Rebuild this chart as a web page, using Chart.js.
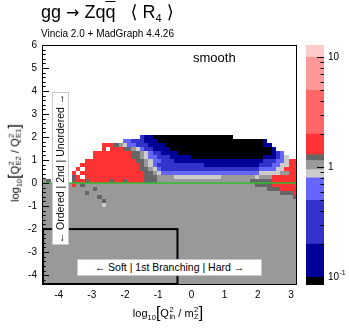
<!DOCTYPE html>
<html><head><meta charset="utf-8">
<script src="https://cdn.jsdelivr.net/npm/chart.js@4"></script>
<style>
body{margin:0;background:#fff;}
#wrap{position:relative;width:349px;height:328px;overflow:hidden;font-family:'Liberation Sans',Arial,Helvetica,'DejaVu Sans',sans-serif;color:#000;}
canvas{position:absolute;top:0;}
.t{position:absolute;white-space:pre;line-height:1;}
.box{position:absolute;background:#fff;border:1px solid #c8c8c8;box-sizing:border-box;font-size:10.5px;display:flex;align-items:center;justify-content:center;white-space:pre;line-height:1;}
.ss{display:inline-block;vertical-align:middle;line-height:0.9;font-size:7.5px;text-align:left;margin-left:0.5px;}
.br{font-size:16px;vertical-align:-1px;}
</style></head>
<body>
<div id="wrap">
  <canvas id="main" width="349" height="328" style="left:0"></canvas>
  <canvas id="cbar" width="49" height="328" style="left:300px"></canvas>
  <div class="t" style="left:41px;top:3px;font-size:18px;">gg <span style="font-family:'DejaVu Sans';font-size:16px">→</span> Zq<span style="text-decoration:overline">q</span>   ⟨ R<sub style="font-size:11px;vertical-align:-4px">4</sub> ⟩</div>
  <div class="t" style="left:41px;top:29px;font-size:10px;">Vincia 2.0 + MadGraph 4.4.26</div>
  <div class="t" style="left:193px;top:51px;font-size:13px;">smooth</div>
  <div class="box" style="left:-16px;top:160px;width:153px;height:17px;transform:rotate(-90deg);">← Ordered | 2nd | Unordered →</div>
  <div class="box" style="left:77px;top:259px;width:185px;height:17px;">← Soft | 1st Branching | Hard →</div>
  <div class="t" style="left:168px;top:313px;font-size:11px;transform:translate(-50%,-50%);">log<sub style="font-size:7.5px;vertical-align:-3px">10</sub><span class="br">[</span>Q<span class="ss">2<br>in</span> / m<span class="ss">2<br>Z</span><span class="br">]</span></div>
  <div class="t" style="left:15px;top:163px;font-size:11px;transform:translate(-50%,-50%) rotate(-90deg);">log<sub style="font-size:7.5px;vertical-align:-3px">10</sub><span class="br">[</span>Q<span class="ss">2<br>E2</span> / Q<span class="ss">2<br>E1</span><span class="br">]</span></div>
</div>
<script>
// ---- axis ticks ----
const xTicks = [-4, -3, -2, -1, 0, 1, 2, 3];
const yTicks = [-4, -3, -2, -1, 0, 1, 2, 3, 4, 5, 6];
const zTicks = [0.1,0.2,0.3,0.4,0.5,0.6,0.7,0.8,0.9,1,2,3,4,5,6,7,8,9,10];
const zLabelled = {0.1:'10', 1:'1', 10:'10'};
const zExponent = {0.1:'-1'};
// ---- colour contour levels (ratio) ----
const zLevels = [0.1, 0.2, 0.5, 0.8, 0.95, 1.15, 1.3, 2, 5, 10];
const zColors = ['#000000','#000099','#3333cc','#6666ff','#cccccc','#999999','#666666','#ff3333','#ff6666','#ff9999','#ffcccc'];
const zMin = 0.085, zMax = 12.9;
const codeValue = {K:0.09, N:0.15, B:0.3, P:0.65, L:0.88, G:1.0, D:1.2, R:1.6};
// ---- binning ----
const xBin0 = -4.5, xBinW = 0.128, yBinH = 0.175, topRow = 11;
// ---- heat map rows, top row (11) first; 60 columns each ('.' = empty) ----
const cells = [
'..........|..........|...BNNKKKK|KKKKKKKKKK|KKKKK.....|..........',
'..........|.........P|PBBBNNNKKK|KKKKKKKKKK|KKKKKKKKKK|KKN.......',
'..........|....RRRDGL|PPBBBNNNNK|KKKKKKKKKK|KKKKKKKKKK|KKNN......',
'..........|....R.RRRD|DGLPBBNNNN|KKKKKKKKKK|KKKKKKKKKK|KKKKN.....',
'..........|..RRRRRRRR|RDDGLPBBNN|NNKKKKKKKK|KKKKKKKKKK|KKKKNBP...',
'..........|..RRRRRRRR|RDDGLPPBBB|NNNNNKKKKK|KKKKKKKKKK|KKNNNBPL..',
'..........|RRRRRRRRRR|RRDDGLPPBB|BNNNNNNNNN|NNNNNNNNNN|NNBBBPPLRR',
'.........R|RRRRRRRRRR|RRRDGLPBBB|BBBBBBBBNN|NNNNNNNNNN|NBBBPPLLRR',
'........R.|RRRRRRRRRR|RRRDDGLPBB|BBBBBBBBBB|BBBBBBBBBB|BPPPPLLRRR',
'.......R.R|RRRRRRRRRR|RRRRDDGLPP|PPPPPPPPPP|PPPPPPPPPP|PLLLLLGGRR',
'.......DR.|RRRRRRRRRR|RRRRDDDGGG|GLLLLLLLLL|LLGGGGGGGG|LGGGRRRRRR',
'GD.....DRR|DRRRRRDRRD|RRRRDDDGGG|GGGGGGGGGG|GGGGGGGGGD|DDDDRRRRRR',
'GGGGGGGRGD|GGGGGGGGGG|GGGGGGGGGG|GGGGGGGGGG|GGGGGGGGGG|DDDDRRRRRR',
'GGGGGGGGGG|GGDGGGGGGG|GGGGGGGGGG|GGGGGGGGGG|GGGGGGGGGG|GGGDDDRRRR',
'GGGGGGGGGG|DGGGGGGGGG|GGGGGGGGGG|GGGGGGGGGG|GGGGGGGGGG|GGGGGGDDDR',
'GGGGGGGGGG|GGGDGGGGGG|GGGGGGGGGG|GGGGGGGGGG|GGGGGGGGGG|GGGGGGGGGD',
'GGGGGGGGGG|GGGGDGGGGG|GGGGGGGGGG|GGGGGGGGGG|GGGGGGGGGG|GGGGGGGGGG',
'GGGGGGGGGG|GGGGLGGGGG|GGGGGGGGGG|GGGGGGGGGG|GGGGGGGGGG|GGGGGGGGGG',
'GGGGGGGGGG|GGGGGGGGGG|GGGGGGGGGG|GGGGGGGGGG|GGGGGGGGGG|GGGGGGGGGG',
'GGGGGGGGGG|GGGGGGGGGG|GGGGGGGGGG|GGGGGGGGGG|GGGGGGGGGG|GGGGGGGGGG',
'GGGGGGGGGG|GGGGGGGGGG|GGGGGGGGGG|GGGGGGGGGG|GGGGGGGGGG|GGGGGGGGGG',
'GGGGGGGGGG|GGGGGGGGGG|GGGGGGGGGG|GGGGGGGGGG|GGGGGGGGGG|GGGGGGGGGG',
'GGGGGGGGGG|GGGGGGGGGG|GGGGGGGGGG|GGGGGGGGGG|GGGGGGGGGG|GGGGGGGGGG',
'GGGGGGGGGG|GGGGGGGGGG|GGGGGGGGGG|GGGGGGGGGG|GGGGGGGGGG|GGGGGGGGGG',
'GGGGGGGGGG|GGGGGGGGGG|GGGGGGGGGG|GGGGGGGGGG|GGGGGGGGGG|GGGGGGGGGG',
'GGGGGGGGGG|GGGGGGGGGG|GGGGGGGGGG|GGGGGGGGGG|GGGGGGGGGG|GGGGGGGGGG',
'GGGGGGGGGG|GGGGGGGGGG|GGGGGGGGGG|GGGGGGGGGG|GGGGGGGGGG|GGGGGGGGGG',
'GGGGGGGGGG|GGGGGGGGGG|GGGGGGGGGG|GGGGGGGGGG|GGGGGGGGGG|GGGGGGGGGG',
'GGGGGGGGGG|GGGGGGGGGG|GGGGGGGGGG|GGGGGGGGGG|GGGGGGGGGG|GGGGGGGGGG',
'GGGGGGGGGG|GGGGGGGGGG|GGGGGGGGGG|GGGGGGGGGG|GGGGGGGGGG|GGGGGGGGGG',
'GGGGGGGGGG|GGGGGGGGGG|GGGGGGGGGG|GGGGGGGGGG|GGGGGGGGGG|GGGGGGGGGG',
'GGGGGGGGGG|GGGGGGGGGG|GGGGGGGGGG|GGGGGGGGGG|GGGGGGGGGG|GGGGGGGGGG',
'GGGGGGGGGG|GGGGGGGGGG|GGGGGGGGGG|GGGGGGGGGG|GGGGGGGGGG|GGGGGGGGGG',
'GGGGGGGGGG|GGGGGGGGGG|GGGGGGGGGG|GGGGGGGGGG|GGGGGGGGGG|GGGGGGGGGG',
'GGGGGGGGGG|GGGGGGGGGG|GGGGGGGGGG|GGGGGGGGGG|GGGGGGGGGG|GGGGGGGGGG',
'GGGGGGGGGG|GGGGGGGGGG|GGGGGGGGGG|GGGGGGGGGG|GGGGGGGGGG|GGGGGGGGGG',
'GGGGGGGGGG|GGGGGGGGGG|GGGGGGGGGG|GGGGGGGGGG|GGGGGGGGGG|GGGGGGGGGG',
'GGGGGGGGGG|GGGGGGGGGG|GGGGGGGGGG|GGGGGGGGGG|GGGGGGGGGG|GGGGGGGGGG'
];
// ---- region marks ----
const xRange = [-4.5, 3.18], yRange = [-4.43, 6];
const softBox = {x0:-4.5, x1:-0.42, y0:-4.43, y1:-2};
const diagonalY = 0;

function colorFor(v){ let i=0; while(i<zLevels.length && v>=zLevels[i]) i++; return zColors[i]; }
const FONT = "'Liberation Sans', Arial, Helvetica, sans-serif";

const heatmap = {
  id:'heatmap',
  beforeDatasetsDraw(chart){
    const {ctx, chartArea:a, scales:{x, y}} = chart;
    ctx.save();
    ctx.beginPath(); ctx.rect(a.left, a.top, a.right-a.left, a.bottom-a.top); ctx.clip();
    cells.forEach((rowStr, i) => {
      const row = rowStr.replace(/\|/g,'');
      const r = topRow - i;
      const yb = Math.round(y.getPixelForValue(r*yBinH)), yt = Math.round(y.getPixelForValue((r+1)*yBinH));
      for (let c=0; c<row.length; c++){
        const ch = row[c]; if (ch === '.') continue;
        const xl = Math.round(x.getPixelForValue(xBin0 + c*xBinW)), xr = Math.round(x.getPixelForValue(xBin0 + (c+1)*xBinW));
        ctx.fillStyle = colorFor(codeValue[ch]);
        ctx.fillRect(xl, yt, xr-xl, yb-yt);
      }
    });
    ctx.restore();
  },
  afterDatasetsDraw(chart){
    const {ctx, chartArea:a, scales:{x, y}} = chart;
    ctx.save();
    // green line at y = 0
    ctx.strokeStyle = '#33bb33'; ctx.lineWidth = 1.6;
    const gy = y.getPixelForValue(diagonalY);
    ctx.beginPath(); ctx.moveTo(a.left, gy); ctx.lineTo(a.right, gy); ctx.stroke();
    // soft region box
    ctx.strokeStyle = '#000'; ctx.lineWidth = 2;
    const bx0 = x.getPixelForValue(softBox.x0)+1, bx1 = x.getPixelForValue(softBox.x1);
    const by0 = y.getPixelForValue(softBox.y0)-1, by1 = y.getPixelForValue(softBox.y1);
    ctx.strokeRect(bx0, by1, bx1-bx0, by0-by1);
    // frame
    ctx.lineWidth = 1; ctx.strokeStyle = '#000';
    ctx.strokeRect(Math.round(a.left)+0.5, Math.round(a.top)+0.5, Math.round(a.right-a.left)-1, Math.round(a.bottom-a.top)-1);
    // y ticks inside
    ctx.beginPath();
    for (let k=0; k<yTicks.length; k++){
      const v = yTicks[k];
      const py = Math.round(y.getPixelForValue(v))+0.5;
      ctx.moveTo(a.left, py); ctx.lineTo(a.left+7, py);
      for (let m=1; m<5; m++){
        for (const s of [v + m*0.2, v - m*0.2]) {
          if (s < yRange[0] || s > yRange[1]) continue;
          const pm = Math.round(y.getPixelForValue(s))+0.5;
          ctx.moveTo(a.left, pm); ctx.lineTo(a.left+3.5, pm);
        }
      }
    }
    ctx.stroke();
    ctx.restore();
  }
};

new Chart(document.getElementById('main'), {
  type:'scatter',
  data:{datasets:[{data:[], pointRadius:0}]},
  options:{
    responsive:false, animation:false, devicePixelRatio:1,
    layout:{padding:{left:0, right:52, top:45, bottom:0}},
    plugins:{legend:{display:false}, tooltip:{enabled:false}},
    scales:{
      x:{type:'linear', min:xRange[0], max:xRange[1],
         afterBuildTicks(s){ s.ticks = xTicks.map(v=>({value:v})); },
         afterFit(s){ s.height = 43; },
         grid:{display:false, drawTicks:false}, border:{display:false},
         ticks:{padding:4, color:'#000', font:{family:FONT, size:10}, callback:v=>String(v)}},
      y:{type:'linear', min:yRange[0], max:yRange[1],
         afterBuildTicks(s){ s.ticks = yTicks.map(v=>({value:v})); },
         afterFit(s){ s.width = 42; },
         grid:{display:false, drawTicks:false}, border:{display:false},
         ticks:{padding:5, color:'#000', font:{family:FONT, size:10}, callback:v=>String(v)}}
    }
  },
  plugins:[heatmap]
});

// ---- colour bar ----
const segLo = [zMin].concat(zLevels), segHi = zLevels.concat([zMax]);
const cbarTicks = {
  id:'cbarTicks',
  afterDatasetsDraw(chart){
    const {ctx, chartArea:a, scales:{y}} = chart;
    ctx.save(); ctx.strokeStyle='#000'; ctx.lineWidth=1; ctx.beginPath();
    for (const v of zTicks){
      const py = Math.round(y.getPixelForValue(v))+0.5;
      const len = (v in zLabelled) ? 7 : 3.5;
      ctx.moveTo(a.right, py); ctx.lineTo(a.right-len, py);
    }
    ctx.stroke();
    ctx.fillStyle = '#000'; ctx.font = "7px " + FONT; ctx.textBaseline = 'middle'; ctx.textAlign = 'left';
    for (const v in zExponent){
      const py = y.getPixelForValue(Number(v));
      ctx.fillText(zExponent[v], a.right + 4 + 11.5, py - 4.5);
    }
    ctx.restore();
  }
};
new Chart(document.getElementById('cbar'), {
  type:'bar',
  data:{labels:[''], datasets: segLo.map((lo,i)=>({data:[[lo, segHi[i]]], backgroundColor:zColors[i], borderWidth:0, grouped:false, barPercentage:1, categoryPercentage:1}))},
  options:{
    responsive:false, animation:false, devicePixelRatio:1,
    layout:{padding:{left:6, right:0, top:45, bottom:43}},
    plugins:{legend:{display:false}, tooltip:{enabled:false}},
    scales:{
      x:{display:false},
      y:{type:'logarithmic', position:'right', min:zMin, max:zMax,
         afterBuildTicks(s){ s.ticks = zTicks.map(v=>({value:v})); },
         afterFit(s){ s.width = 25; },
         grid:{display:false, drawTicks:false}, border:{display:false},
         ticks:{autoSkip:false, padding:4, color:'#000', font:{family:FONT, size:10}, callback:v=>zLabelled[v] || ''}}
    }
  },
  plugins:[cbarTicks]
});
</script>
</body></html>
